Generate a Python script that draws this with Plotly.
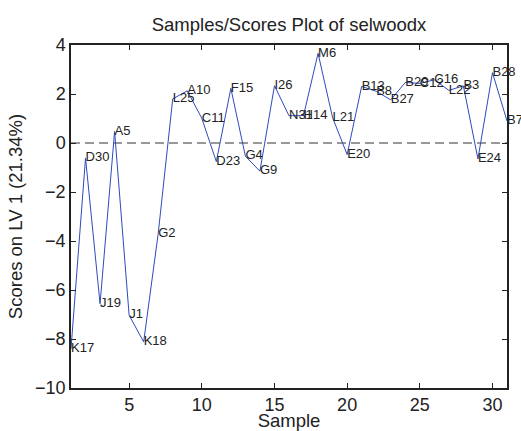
import plotly.graph_objects as go

# Sample labels in plotting order and their scores on the first latent variable
sample_names = ["K17", "D30", "J19", "A5", "J1", "K18", "G2", "L25", "A10", "C11",
                "D23", "F15", "G4", "G9", "I26", "N31", "H14", "M6", "L21", "E20",
                "B13", "B8", "B27", "B29", "C12", "C16", "L22", "B3", "E24", "B28", "B7"]
lv1_scores = [-8.40, -0.61, -6.56, 0.47, -7.03, -8.12, -3.70, 1.80, 2.13, 1.01,
              -0.76, 2.23, -0.54, -1.15, 2.34, 1.11, 1.12, 3.66, 1.03, -0.47,
              2.31, 2.11, 1.76, 2.47, 2.43, 2.58, 2.15, 2.33, -0.65, 2.87, 0.90]
sample_index = list(range(1, len(lv1_scores) + 1))

x_ticks = [5, 10, 15, 20, 25, 30]
y_ticks = [-10, -8, -6, -4, -2, 0, 2, 4]
zero_level = 0

FONT = "Liberation Sans, Arial, Helvetica, sans-serif"
INK = "#222222"

fig = go.Figure()
fig.add_trace(go.Scatter(
    x=sample_index, y=lv1_scores, text=sample_names,
    mode="lines+text", textposition="middle right",
    line=dict(color="rgb(45,75,190)", width=1),
    textfont=dict(family=FONT, size=13, color=INK),
    cliponaxis=False, hoverinfo="x+y+text", showlegend=False,
))

fig.add_shape(type="line", xref="x", yref="y", x0=1, x1=31, y0=zero_level, y1=zero_level,
              line=dict(color="#333333", width=1, dash="9px,5px"), layer="below")

axis_common = dict(
    showline=True, linecolor=INK, linewidth=1.5, mirror="ticks",
    ticks="inside", ticklen=5, tickwidth=1, tickcolor=INK,
    showgrid=False, zeroline=False, automargin=False,
    tickfont=dict(family=FONT, size=18, color=INK),
)

fig.update_layout(
    width=521, height=431,
    margin=dict(l=71, r=14, t=45, b=43, autoexpand=False),
    paper_bgcolor="white", plot_bgcolor="white",
    title=dict(text="Samples/Scores Plot of selwoodx", x=0.5, xref="paper",
               y=1 - 24.5 / 431, yref="container", yanchor="middle",
               font=dict(family=FONT, size=18.5, color=INK)),
    xaxis=dict(range=[1, 31], tickvals=x_ticks,
               title=dict(text="Sample", standoff=0, font=dict(family=FONT, size=18.5, color=INK)),
               **axis_common),
    yaxis=dict(range=[-10, 4], tickvals=y_ticks,
               title=dict(text="Scores on LV 1 (21.34%)", standoff=8,
                          font=dict(family=FONT, size=18.5, color=INK)),
               **axis_common),
)

fig.write_html("out.html")
